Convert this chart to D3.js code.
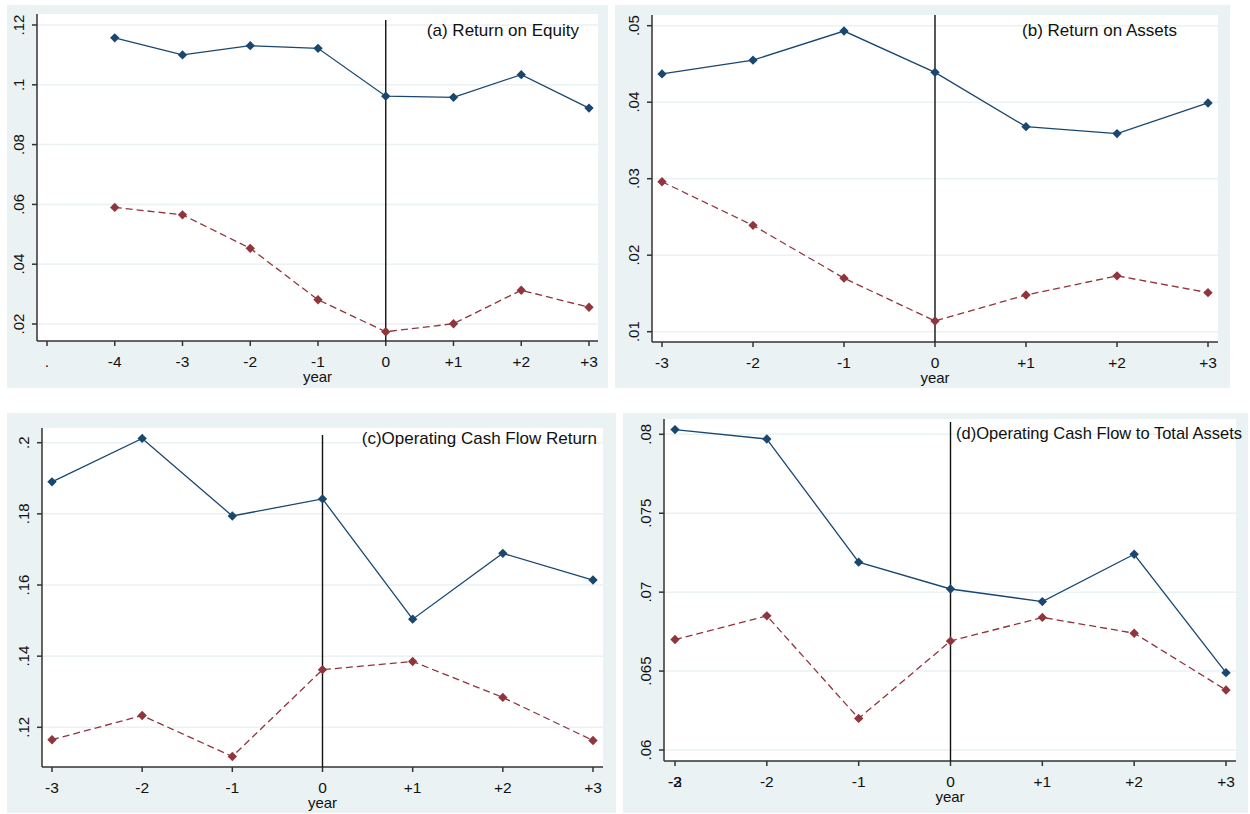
<!DOCTYPE html>
<html>
<head>
<meta charset="utf-8">
<title>Operating performance around year 0</title>
<script src="https://cdn.jsdelivr.net/npm/d3@7"></script>
<style>
body, html {
  margin: 0;
  background: #fff;
}
svg text {
  font-family: Arial, "Liberation Sans", sans-serif;
  fill: #111;
}
.grid line {
  stroke: #eaf2f3;
  stroke-width: 1.5px;
}
.axis {
  stroke: #333;
  stroke-width: 1.5px;
}
</style>
</head>
<body>
<script>
// ---- data ----
var years = [-3, -2, -1, 0, 1, 2, 3];
var yearsA = [-4, -3, -2, -1, 0, 1, 2, 3];
var xTicksA = [-5, -4, -3, -2, -1, 0, 1, 2, 3];

// (a) Return on Equity
var roeBlue = [0.1157, 0.1100, 0.1131, 0.1122, 0.0962, 0.0958, 0.1034, 0.0922];
var roeRed  = [0.0590, 0.0565, 0.0453, 0.0281, 0.0174, 0.0201, 0.0313, 0.0256];
var roeTicks = [0.02, 0.04, 0.06, 0.08, 0.10, 0.12];
var roeTickLabels = [".02", ".04", ".06", ".08", ".1", ".12"];

// (b) Return on Assets
var roaBlue = [0.0437, 0.0455, 0.0493, 0.0439, 0.0368, 0.0359, 0.0399];
var roaRed  = [0.0296, 0.0239, 0.0170, 0.0114, 0.0148, 0.0173, 0.0151];
var roaTicks = [0.01, 0.02, 0.03, 0.04, 0.05];
var roaTickLabels = [".01", ".02", ".03", ".04", ".05"];

// (c) Operating Cash Flow Return
var ocfBlue = [0.1890, 0.2012, 0.1794, 0.1842, 0.1504, 0.1689, 0.1614];
var ocfRed  = [0.1165, 0.1233, 0.1118, 0.1362, 0.1385, 0.1284, 0.1163];
var ocfTicks = [0.12, 0.14, 0.16, 0.18, 0.20];
var ocfTickLabels = [".12", ".14", ".16", ".18", ".2"];

// (d) Operating Cash Flow to Total Assets
var ocftaBlue = [0.0803, 0.0797, 0.0719, 0.0702, 0.0694, 0.0724, 0.0649];
var ocftaRed  = [0.0670, 0.0685, 0.0620, 0.0669, 0.0684, 0.0674, 0.0638];
var ocftaTicks = [0.06, 0.065, 0.07, 0.075, 0.08];
var ocftaTickLabels = [".06", ".065", ".07", ".075", ".08"];

var blue = "#1a476f", red = "#90353b";

function yearLabel(v) {
  if (v < -4) return ".";
  return v > 0 ? "+" + v : String(v);
}

var svg = d3.select("body").append("svg")
    .attr("width", 1250)
    .attr("height", 814);

function drawPanel(p) {
  var g = svg.append("g");

  g.append("rect")
      .attr("x", p.bg[0]).attr("y", p.bg[1])
      .attr("width", p.bg[2]).attr("height", p.bg[3])
      .attr("fill", "#eaf2f3");
  g.append("rect")
      .attr("x", p.plot.l).attr("y", p.plot.t)
      .attr("width", p.plot.r - p.plot.l).attr("height", p.plot.b - p.plot.t)
      .attr("fill", "#fff");

  var x = d3.scaleLinear().domain(d3.extent(p.xTicks)).range(p.xr);
  var y = d3.scaleLinear().domain(d3.extent(p.yTicks)).range(p.yr);

  // gridlines
  g.append("g").attr("class", "grid")
    .selectAll("line").data(p.yTicks).enter().append("line")
      .attr("x1", p.plot.l).attr("x2", p.plot.r)
      .attr("y1", function(d) { return y(d); })
      .attr("y2", function(d) { return y(d); });

  // axes
  g.append("line").attr("class", "axis")
      .attr("x1", p.plot.l).attr("x2", p.plot.l)
      .attr("y1", p.plot.t).attr("y2", p.plot.b);
  g.append("line").attr("class", "axis")
      .attr("x1", p.plot.l).attr("x2", p.plot.r)
      .attr("y1", p.plot.b).attr("y2", p.plot.b);

  // y ticks + rotated labels
  p.yTicks.forEach(function(t, i) {
    g.append("line").attr("class", "axis")
        .attr("x1", p.plot.l - 5).attr("x2", p.plot.l)
        .attr("y1", y(t)).attr("y2", y(t));
    g.append("text")
        .attr("transform", "translate(" + (p.plot.l - 13) + "," + y(t) + ") rotate(-90)")
        .attr("text-anchor", "middle")
        .style("font-size", "15px")
        .text(p.yLabels[i]);
  });

  // x ticks + labels
  p.xTicks.forEach(function(t) {
    g.append("line").attr("class", "axis")
        .attr("x1", x(t)).attr("x2", x(t))
        .attr("y1", p.plot.b).attr("y2", p.plot.b + 5);
    g.append("text")
        .attr("x", x(t)).attr("y", p.plot.b + 26)
        .attr("text-anchor", "middle")
        .style("font-size", "15.5px")
        .text(yearLabel(t));
  });
  (p.overlay || []).forEach(function(o) {
    g.append("text")
        .attr("x", x(o.x)).attr("y", p.plot.b + 26)
        .attr("text-anchor", "middle")
        .style("font-size", "15.5px")
        .text(o.label);
  });

  g.append("text")
      .attr("x", (p.plot.l + p.plot.r) / 2).attr("y", p.plot.b + 41)
      .attr("text-anchor", "middle")
      .style("font-size", "15px")
      .text("year");

  // event-year line
  g.append("line")
      .attr("x1", x(0)).attr("x2", x(0))
      .attr("y1", p.vTop).attr("y2", p.plot.b)
      .attr("stroke", "#111").attr("stroke-width", 1.4);

  var line = d3.line()
      .x(function(d) { return x(d[0]); })
      .y(function(d) { return y(d[1]); });
  var sym = d3.symbol().type(d3.symbolDiamond2).size(56);

  [[p.blue, blue, null], [p.red, red, "7,4"]].forEach(function(s) {
    var pts = p.xs.map(function(v, i) { return [v, s[0][i]]; });
    g.append("path")
        .attr("d", line(pts))
        .attr("fill", "none")
        .attr("stroke", s[1])
        .attr("stroke-width", 1.3)
        .attr("stroke-dasharray", s[2]);
    g.selectAll(null).data(pts).enter().append("path")
        .attr("d", sym)
        .attr("transform", function(d) { return "translate(" + x(d[0]) + "," + y(d[1]) + ")"; })
        .attr("fill", s[1]);
  });

  var title = g.append("text")
      .attr("x", p.titleX).attr("y", p.titleY)
      .attr("text-anchor", p.titleAnchor)
      .style("font-size", p.titleSize || "17px")
      .text(p.title);
  if (p.titleLen) title.attr("textLength", p.titleLen).attr("lengthAdjust", "spacingAndGlyphs");
}

drawPanel({
  bg: [7, 5, 601, 383], plot: {l: 37, t: 14, r: 598, b: 341},
  xTicks: xTicksA, xr: [47, 589], yTicks: roeTicks, yLabels: roeTickLabels, yr: [324, 25],
  xs: yearsA, blue: roeBlue, red: roeRed, vTop: 20,
  title: "(a) Return on Equity", titleX: 579, titleY: 36, titleAnchor: "end"
});
drawPanel({
  bg: [615, 5, 615, 383], plot: {l: 652, t: 15, r: 1218, b: 342},
  xTicks: years, xr: [662, 1208], yTicks: roaTicks, yLabels: roaTickLabels, yr: [331.7, 25.7],
  xs: years, blue: roaBlue, red: roaRed, vTop: 15,
  title: "(b) Return on Assets", titleX: 1177, titleY: 36, titleAnchor: "end"
});
drawPanel({
  bg: [7, 413, 609, 400], plot: {l: 42, t: 428, r: 603, b: 767},
  xTicks: years, xr: [52, 593], yTicks: ocfTicks, yLabels: ocfTickLabels, yr: [727.3, 442.7],
  xs: years, blue: ocfBlue, red: ocfRed, vTop: 435,
  title: "(c)Operating Cash Flow Return", titleX: 597, titleY: 444, titleAnchor: "end"
});
drawPanel({
  bg: [623, 413, 625, 400], plot: {l: 664, t: 419, r: 1236, b: 761},
  xTicks: years, xr: [675, 1226], yTicks: ocftaTicks, yLabels: ocftaTickLabels, yr: [750, 434.3],
  xs: years, blue: ocftaBlue, red: ocftaRed, vTop: 422, overlay: [{x: -3, label: "-2"}],
  title: "(d)Operating Cash Flow to Total Assets", titleX: 956, titleY: 439, titleAnchor: "start",
  titleSize: "17px", titleLen: 286
});
</script>
</body>
</html>
